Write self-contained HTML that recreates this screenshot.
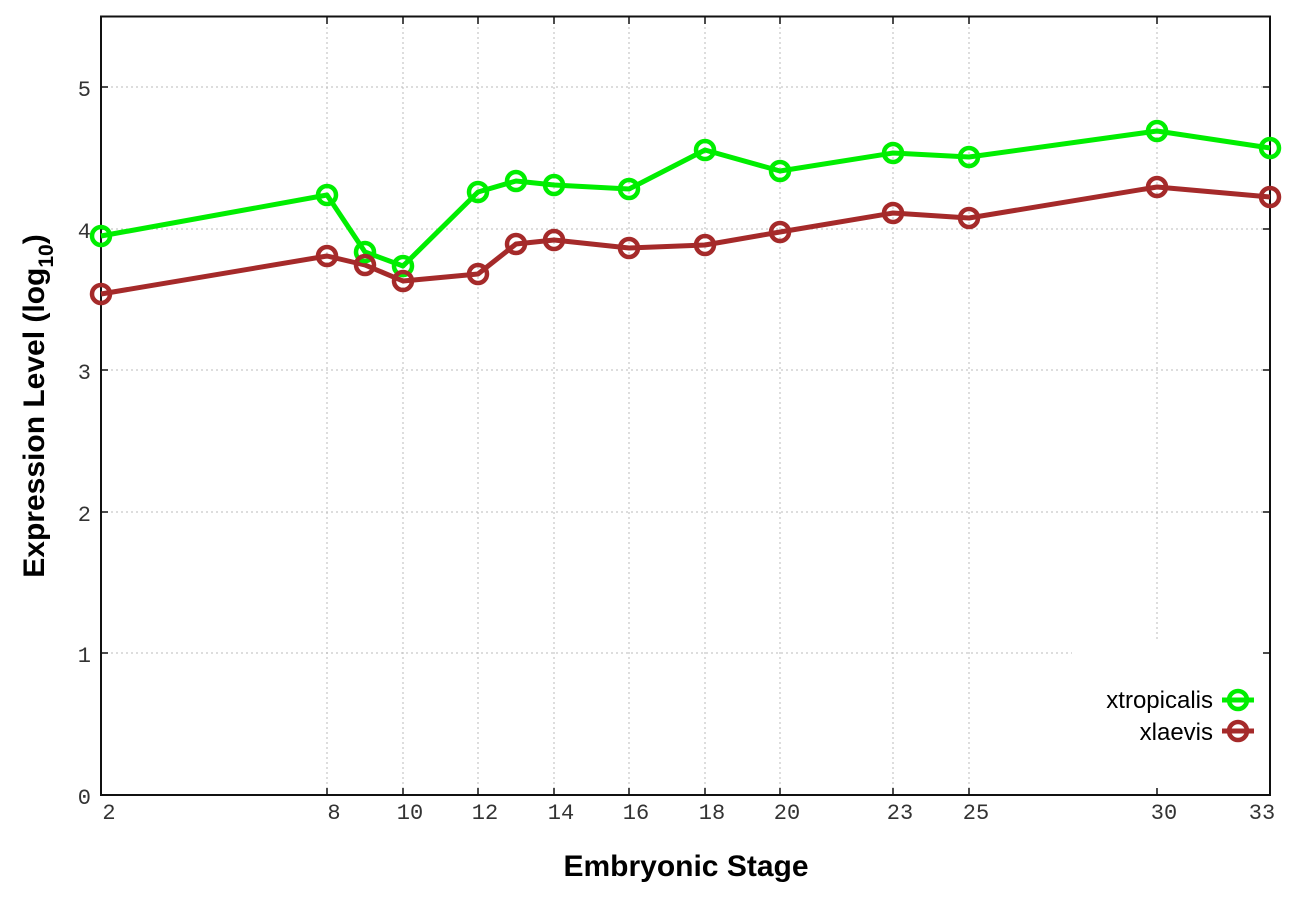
<!DOCTYPE html>
<html><head><meta charset="utf-8"><style>
html,body{margin:0;padding:0;background:#fff;}
svg{display:block}
.tk{font-family:"Liberation Mono","DejaVu Sans Mono",monospace;font-size:22px;fill:#333}
</style></head><body>
<svg width="1296" height="907" viewBox="0 0 1296 907" xmlns="http://www.w3.org/2000/svg">
<g stroke="#bbb" stroke-width="1" stroke-dasharray="2,3">
<line x1="101" y1="87" x2="1270" y2="87"/>
<line x1="101" y1="229" x2="1270" y2="229"/>
<line x1="101" y1="370" x2="1270" y2="370"/>
<line x1="101" y1="512" x2="1270" y2="512"/>
<line x1="101" y1="653" x2="1072" y2="653"/>
<line x1="327" y1="17" x2="327" y2="795"/>
<line x1="403" y1="17" x2="403" y2="795"/>
<line x1="478" y1="17" x2="478" y2="795"/>
<line x1="554" y1="17" x2="554" y2="795"/>
<line x1="629" y1="17" x2="629" y2="795"/>
<line x1="705" y1="17" x2="705" y2="795"/>
<line x1="780" y1="17" x2="780" y2="795"/>
<line x1="893" y1="17" x2="893" y2="795"/>
<line x1="969" y1="17" x2="969" y2="795"/>
<line x1="1157" y1="17" x2="1157" y2="642"/>
</g>
<rect x="101" y="16.5" width="1169" height="778.5" fill="none" stroke="#111" stroke-width="2"/>
<g stroke="#111" stroke-width="1.5">
<line x1="101" y1="87" x2="108" y2="87"/><line x1="1263" y1="87" x2="1270" y2="87"/>
<line x1="101" y1="229" x2="108" y2="229"/><line x1="1263" y1="229" x2="1270" y2="229"/>
<line x1="101" y1="370" x2="108" y2="370"/><line x1="1263" y1="370" x2="1270" y2="370"/>
<line x1="101" y1="512" x2="108" y2="512"/><line x1="1263" y1="512" x2="1270" y2="512"/>
<line x1="101" y1="653" x2="108" y2="653"/><line x1="1263" y1="653" x2="1270" y2="653"/>
<line x1="327" y1="795" x2="327" y2="788"/><line x1="327" y1="17" x2="327" y2="24"/>
<line x1="403" y1="795" x2="403" y2="788"/><line x1="403" y1="17" x2="403" y2="24"/>
<line x1="478" y1="795" x2="478" y2="788"/><line x1="478" y1="17" x2="478" y2="24"/>
<line x1="554" y1="795" x2="554" y2="788"/><line x1="554" y1="17" x2="554" y2="24"/>
<line x1="629" y1="795" x2="629" y2="788"/><line x1="629" y1="17" x2="629" y2="24"/>
<line x1="705" y1="795" x2="705" y2="788"/><line x1="705" y1="17" x2="705" y2="24"/>
<line x1="780" y1="795" x2="780" y2="788"/><line x1="780" y1="17" x2="780" y2="24"/>
<line x1="893" y1="795" x2="893" y2="788"/><line x1="893" y1="17" x2="893" y2="24"/>
<line x1="969" y1="795" x2="969" y2="788"/><line x1="969" y1="17" x2="969" y2="24"/>
<line x1="1157" y1="795" x2="1157" y2="788"/><line x1="1157" y1="17" x2="1157" y2="24"/>
</g>
<g class="tk" text-anchor="end">
<text x="91" y="96">5</text><text x="91" y="238">4</text><text x="91" y="379">3</text>
<text x="91" y="521">2</text><text x="91" y="662">1</text><text x="91" y="804">0</text>
</g>
<g class="tk" text-anchor="middle">
<text x="109" y="819">2</text><text x="334" y="819">8</text><text x="410" y="819">10</text>
<text x="485" y="819">12</text><text x="561" y="819">14</text><text x="636" y="819">16</text>
<text x="712" y="819">18</text><text x="787" y="819">20</text><text x="900" y="819">23</text>
<text x="976" y="819">25</text><text x="1164" y="819">30</text><text x="1262" y="819">33</text>
</g>
<text x="686" y="876" text-anchor="middle" font-family="Liberation Sans, sans-serif" font-weight="bold" font-size="30" fill="#000">Embryonic Stage</text>
<text transform="translate(44,406) rotate(-90)" text-anchor="middle" font-family="Liberation Sans, sans-serif" font-weight="bold" font-size="30" fill="#000">Expression Level (log<tspan font-size="21" dy="9">10</tspan><tspan dy="-9">)</tspan></text>
<g fill="none" stroke-linejoin="round">
<polyline stroke="#00ee00" stroke-width="5" points="101,236 327,195 365,252 403,266 478,192 516,181 554,185 629,189 705,150 780,171 893,153 969,157 1157,131 1270,148"/>
<polyline stroke="#a52a2a" stroke-width="5" points="101,294 327,256 365,265 403,281 478,274 516,244 554,240 629,248 705,245 780,232 893,213 969,218 1157,187 1270,197"/>
<g stroke="#00ee00" stroke-width="4.5">
<circle cx="101" cy="236" r="9"/><circle cx="327" cy="195" r="9"/><circle cx="365" cy="252" r="9"/><circle cx="403" cy="266" r="9"/><circle cx="478" cy="192" r="9"/><circle cx="516" cy="181" r="9"/><circle cx="554" cy="185" r="9"/><circle cx="629" cy="189" r="9"/><circle cx="705" cy="150" r="9"/><circle cx="780" cy="171" r="9"/><circle cx="893" cy="153" r="9"/><circle cx="969" cy="157" r="9"/><circle cx="1157" cy="131" r="9"/><circle cx="1270" cy="148" r="9"/>
</g>
<g stroke="#a52a2a" stroke-width="4.5">
<circle cx="101" cy="294" r="9"/><circle cx="327" cy="256" r="9"/><circle cx="365" cy="265" r="9"/><circle cx="403" cy="281" r="9"/><circle cx="478" cy="274" r="9"/><circle cx="516" cy="244" r="9"/><circle cx="554" cy="240" r="9"/><circle cx="629" cy="248" r="9"/><circle cx="705" cy="245" r="9"/><circle cx="780" cy="232" r="9"/><circle cx="893" cy="213" r="9"/><circle cx="969" cy="218" r="9"/><circle cx="1157" cy="187" r="9"/><circle cx="1270" cy="197" r="9"/>
</g>
</g>
<g font-family="Liberation Sans, sans-serif" font-size="24" fill="#000" text-anchor="end">
<text x="1213" y="708">xtropicalis</text>
<text x="1213" y="740">xlaevis</text>
</g>
<line x1="1222" y1="700" x2="1254" y2="700" stroke="#00ee00" stroke-width="5"/>
<circle cx="1238" cy="700" r="9" fill="none" stroke="#00ee00" stroke-width="4.5"/>
<line x1="1222" y1="731" x2="1254" y2="731" stroke="#a52a2a" stroke-width="5"/>
<circle cx="1238" cy="731" r="9" fill="none" stroke="#a52a2a" stroke-width="4.5"/>
</svg>
</body></html>
